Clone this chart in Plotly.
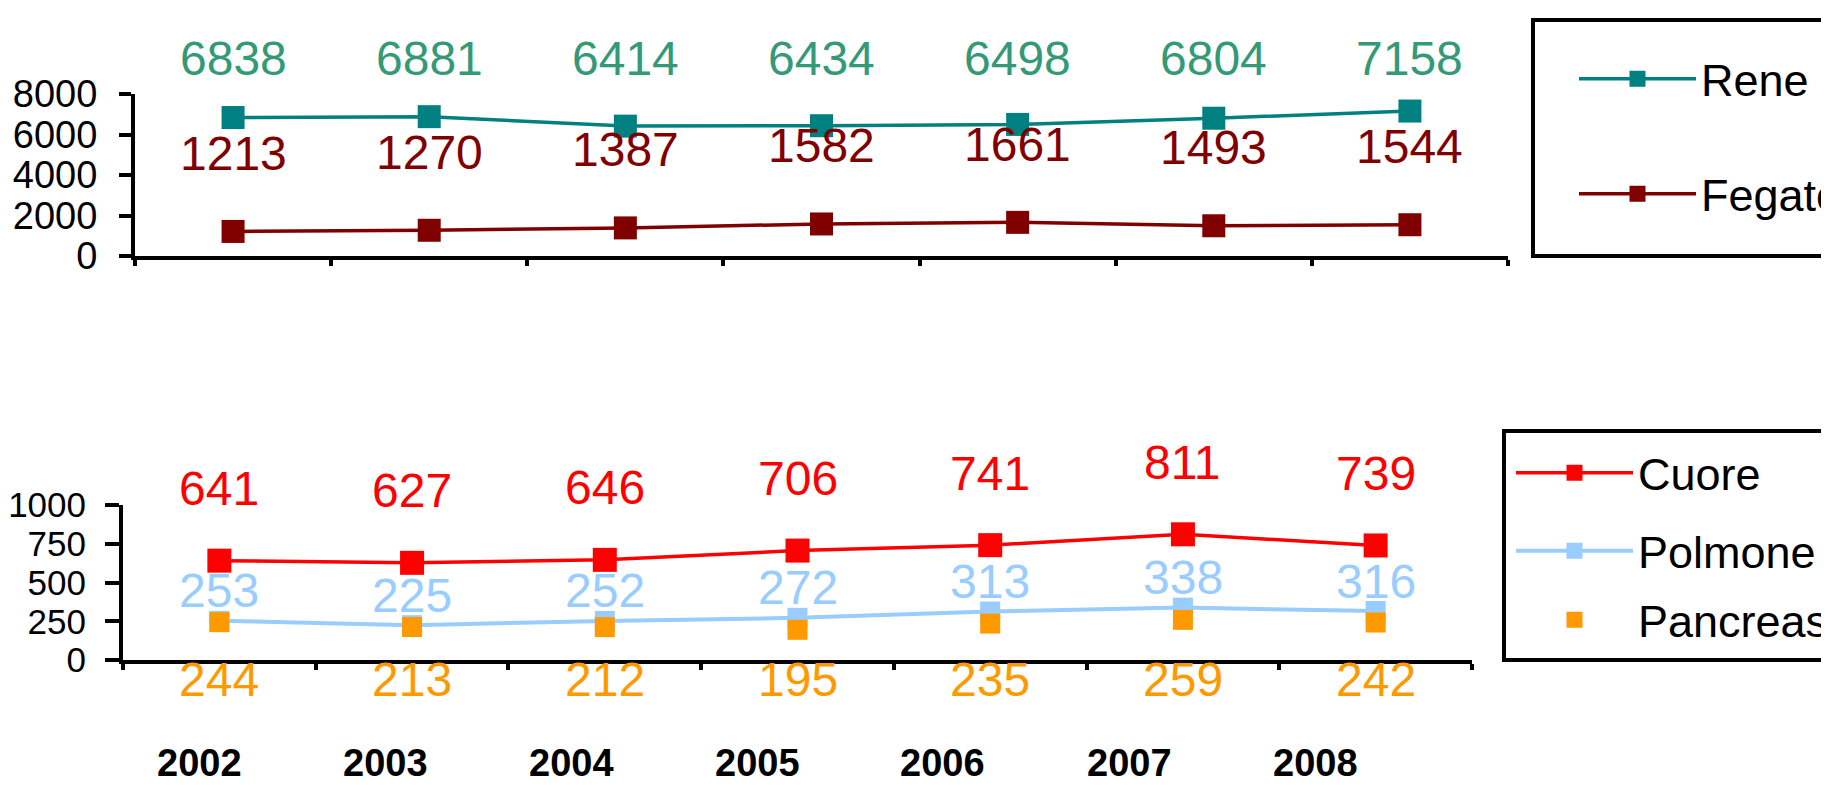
import plotly.graph_objects as go

# ---------------- data ----------------
years = ["2002", "2003", "2004", "2005", "2006", "2007", "2008"]
rene = [6838, 6881, 6414, 6434, 6498, 6804, 7158]
fegato = [1213, 1270, 1387, 1582, 1661, 1493, 1544]
cuore = [641, 627, 646, 706, 741, 811, 739]
polmone = [253, 225, 252, 272, 313, 338, 316]
pancreas = [244, 213, 212, 195, 235, 259, 242]

top_ticks = [0, 2000, 4000, 6000, 8000]
bot_ticks = [0, 250, 500, 750, 1000]

# ---------------- layout helpers ----------------
W, H = 1829, 785
def px(x):
    return x / W
def py(y):
    return 1 - y / H

FONT = "Liberation Sans, Arial, sans-serif"

C_RENE, C_FEG = "#008080", "#800000"
C_CUO, C_POL, C_PAN = "#FF0000", "#99CCFF", "#FF9900"
C_RENE_TXT = "#339977"

fig = go.Figure()

# top chart
fig.add_trace(go.Scatter(x=years, y=fegato, name="Fegato", mode="lines+markers",
                         line=dict(color=C_FEG, width=3.5),
                         marker=dict(symbol="square", size=23, color=C_FEG),
                         xaxis="x", yaxis="y", legend="legend2", showlegend=True))
fig.add_trace(go.Scatter(x=years, y=rene, name="Rene", mode="lines+markers",
                         line=dict(color=C_RENE, width=3.5),
                         marker=dict(symbol="square", size=23, color=C_RENE),
                         xaxis="x", yaxis="y", legend="legend", showlegend=True))
# bottom chart
fig.add_trace(go.Scatter(x=years, y=cuore, name="Cuore", mode="lines+markers",
                         line=dict(color=C_CUO, width=3.5),
                         marker=dict(symbol="square", size=24, color=C_CUO),
                         xaxis="x2", yaxis="y2", legend="legend3", showlegend=True))
fig.add_trace(go.Scatter(x=years, y=polmone, name="Polmone", mode="lines+markers",
                         line=dict(color=C_POL, width=4),
                         marker=dict(symbol="square", size=20, color=C_POL),
                         xaxis="x2", yaxis="y2", legend="legend4", showlegend=True))
fig.add_trace(go.Scatter(x=years, y=pancreas, name="Pancreas", mode="markers",
                         marker=dict(symbol="square", size=20, color=C_PAN),
                         xaxis="x2", yaxis="y2", legend="legend5", showlegend=True))

ann = []
def labels(vals, axis, color, shift, fixed=None):
    for i, v in enumerate(vals):
        ann.append(dict(x=i, y=(v if fixed is None else fixed), xref=axis[0], yref=axis[1],
                        text=str(v), showarrow=False, yshift=shift,
                        font=dict(family=FONT, size=48, color=color),
                        xanchor="center", yanchor="middle"))

labels(rene, ("x", "y"), C_RENE_TXT, 35, fixed=top_ticks[-1])
labels(fegato, ("x", "y"), C_FEG, 78)
labels(cuore, ("x2", "y2"), C_CUO, 72)
labels(polmone, ("x2", "y2"), C_POL, 30)
labels(pancreas, ("x2", "y2"), C_PAN, -19, fixed=0)

# bottom row of year labels
for i, yv in enumerate(years):
    ann.append(dict(x=px(191 + 186 * i), y=py(755), xref="paper", yref="paper",
                    text="<b>%s</b>" % yv, showarrow=False,
                    font=dict(family=FONT, size=38, color="black"),
                    xanchor="center", yanchor="middle"))

axis_common = dict(showgrid=False, zeroline=False, showline=True, linecolor="black",
                   linewidth=4, ticks="outside", tickcolor="black", tickwidth=4,
                   automargin=False)

fig.update_layout(
    width=W, height=H,
    margin=dict(l=0, r=0, t=0, b=0, autoexpand=False),
    paper_bgcolor="white", plot_bgcolor="white",
    font=dict(family=FONT, color="black"),
    showlegend=True,
    xaxis=dict(domain=[px(127), px(1500)], anchor="y", type="category",
               range=[-0.5, 6.5], tickson="boundaries", ticklen=6,
               showticklabels=False, **axis_common),
    yaxis=dict(domain=[py(248), py(86)], anchor="x", range=[0, 8000],
               tickvals=top_ticks, ticktext=[str(t) for t in top_ticks],
               ticklen=12, ticklabelstandoff=14,
               tickfont=dict(family=FONT, size=38, color="black"), **axis_common),
    xaxis2=dict(domain=[px(115), px(1464)], anchor="y2", type="category",
                range=[-0.5, 6.5], tickson="boundaries", ticklen=6,
                showticklabels=False, **axis_common),
    yaxis2=dict(domain=[py(652), py(497)], anchor="x2", range=[0, 1000],
                tickvals=bot_ticks, ticktext=[str(t) for t in bot_ticks],
                ticklen=14, ticklabelstandoff=12,
                tickfont=dict(family=FONT, size=35, color="black"), **axis_common),
    annotations=ann,
    shapes=[
        dict(type="rect", xref="paper", yref="paper", x0=px(1525), x1=px(1835),
             y0=py(248), y1=py(12), line=dict(color="black", width=4)),
        dict(type="rect", xref="paper", yref="paper", x0=px(1496), x1=px(1835),
             y0=py(652), y1=py(423), line=dict(color="black", width=4)),
    ],
)

leg_common = dict(font=dict(family=FONT, size=45, color="black"), bgcolor="rgba(0,0,0,0)",
                  borderwidth=0, xanchor="left", yanchor="middle", itemwidth=117,
                  itemsizing="trace")
fig.update_layout(
    legend=dict(x=px(1566), y=py(71), **leg_common),
    legend2=dict(x=px(1566), y=py(186), **leg_common),
    legend3=dict(x=px(1503), y=py(465), **leg_common),
    legend4=dict(x=px(1503), y=py(543), **leg_common),
    legend5=dict(x=px(1503), y=py(612), **leg_common),
)

fig.write_html("out.html")
